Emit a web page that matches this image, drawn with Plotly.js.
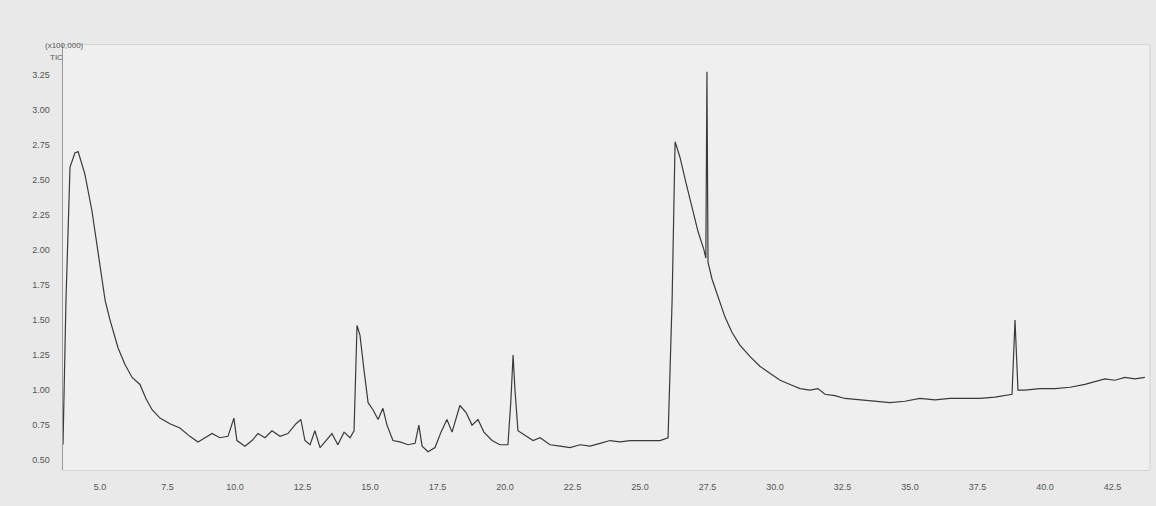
<!DOCTYPE html>
<html>
<head>
<meta charset="utf-8">
<script src="https://cdn.plot.ly/plotly-3.0.1.min.js"></script>
<style>html,body{margin:0;padding:0;background:#e6e6e6;}#chart{width:1156px;height:506px;}</style>
</head>
<body>
<div id="chart"></div>
<script>
// Retention time (min)
const retentionTime = [3.63,3.74,3.89,4.07,4.19,4.44,4.70,5.00,5.19,5.37,5.67,5.93,6.19,6.48,6.70,6.93,7.22,7.59,7.96,8.33,8.63,8.89,9.15,9.44,9.74,9.96,10.07,10.37,10.63,10.85,11.11,11.37,11.67,11.96,12.26,12.44,12.59,12.78,12.96,13.15,13.37,13.59,13.81,14.04,14.26,14.41,14.52,14.63,14.78,14.93,15.11,15.30,15.48,15.63,15.85,16.11,16.41,16.67,16.81,16.93,17.15,17.41,17.63,17.85,18.04,18.33,18.56,18.78,19.00,19.22,19.52,19.81,20.11,20.22,20.30,20.37,20.48,20.74,21.04,21.30,21.67,22.04,22.41,22.78,23.15,23.52,23.89,24.26,24.63,25.00,25.37,25.74,26.04,26.19,26.30,26.48,26.70,26.93,27.15,27.37,27.44,27.48,27.52,27.67,27.89,28.15,28.41,28.70,29.07,29.44,29.81,30.19,30.56,30.93,31.30,31.59,31.85,32.22,32.59,33.15,33.70,34.26,34.81,35.37,35.93,36.48,37.04,37.59,38.15,38.52,38.78,38.89,39.00,39.26,39.81,40.37,40.93,41.48,41.85,42.22,42.59,42.96,43.33,43.70];
// TIC intensity (x100,000)
const ticIntensity = [0.61,1.64,2.59,2.69,2.70,2.54,2.28,1.87,1.64,1.50,1.30,1.18,1.09,1.04,0.94,0.86,0.80,0.76,0.73,0.67,0.63,0.66,0.69,0.66,0.67,0.80,0.64,0.60,0.64,0.69,0.66,0.71,0.67,0.69,0.76,0.79,0.64,0.61,0.71,0.59,0.64,0.69,0.61,0.70,0.66,0.71,1.46,1.39,1.14,0.91,0.86,0.79,0.87,0.75,0.64,0.63,0.61,0.62,0.75,0.60,0.56,0.59,0.70,0.79,0.70,0.89,0.84,0.75,0.79,0.70,0.64,0.61,0.61,0.93,1.25,1.00,0.71,0.68,0.64,0.66,0.61,0.60,0.59,0.61,0.60,0.62,0.64,0.63,0.64,0.64,0.64,0.64,0.66,1.64,2.77,2.66,2.48,2.29,2.13,2.00,1.94,3.27,1.91,1.79,1.66,1.52,1.41,1.32,1.24,1.17,1.12,1.07,1.04,1.01,1.00,1.01,0.97,0.96,0.94,0.93,0.92,0.91,0.92,0.94,0.93,0.94,0.94,0.94,0.95,0.96,0.97,1.50,1.00,1.00,1.01,1.01,1.02,1.04,1.06,1.08,1.07,1.09,1.08,1.09];
const xTicks = [5.0,7.5,10.0,12.5,15.0,17.5,20.0,22.5,25.0,27.5,30.0,32.5,35.0,37.5,40.0,42.5];
const yTicks = [0.50,0.75,1.00,1.25,1.50,1.75,2.00,2.25,2.50,2.75,3.00,3.25];

const trace = {
  x: retentionTime, y: ticIntensity, type: 'scatter', mode: 'lines',
  line: {color: '#3a3a3a', width: 1.2}, hoverinfo: 'x+y'
};
const layout = {
  width: 1156, height: 506,
  margin: {l: 63, r: 6, t: 45, b: 36},
  paper_bgcolor: '#e9e9e9', plot_bgcolor: '#efefef',
  showlegend: false,
  font: {family: 'Liberation Sans, Arial, sans-serif', size: 9, color: '#555'},
  xaxis: {
    range: [3.63, 43.89], tickvals: xTicks, ticktext: xTicks.map(v => v.toFixed(1)),
    showgrid: false, zeroline: false, showline: true, mirror: true, linecolor: '#d4d4d4',
    ticks: '', ticklabelstandoff: 8
  },
  yaxis: {
    range: [0.43, 3.46], tickvals: yTicks, ticktext: yTicks.map(v => v.toFixed(2)),
    showgrid: false, zeroline: false, showline: true, linecolor: '#9a9a9a', linewidth: 1.5,
    ticks: '', ticklabelstandoff: 10
  },
  shapes: [{type: 'line', xref: 'paper', yref: 'paper', x0: 1, x1: 1, y0: 0, y1: 1, line: {color: '#d4d4d4', width: 1}}],
  annotations: [
    {text: '(x100,000)', xref: 'paper', yref: 'paper', x: -0.018, y: 1.0, xanchor: 'left', yanchor: 'middle', showarrow: false, font: {size: 8, color: '#555'}},
    {text: 'TIC', xref: 'paper', yref: 'paper', x: -0.014, y: 0.985, xanchor: 'left', yanchor: 'top', showarrow: false, font: {size: 8, color: '#555'}}
  ]
};
Plotly.newPlot('chart', [trace], layout, {displayModeBar: false, staticPlot: true});
</script>
</body>
</html>
